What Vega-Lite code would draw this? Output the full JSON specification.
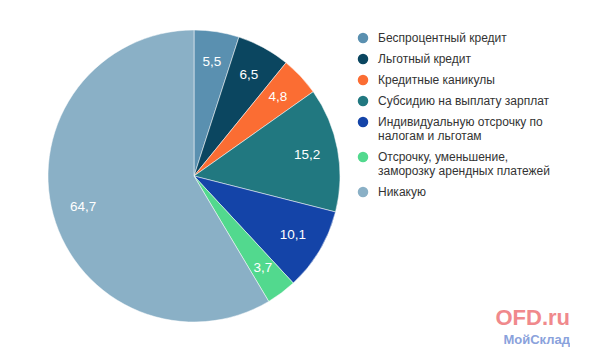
{
  "$schema": "https://vega.github.io/schema/vega-lite/v6.json",
  "width": 388,
  "height": 352,
  "padding": {"left": 0, "top": 0, "right": 0, "bottom": 0},
  "background": "white",
  "config": {
    "view": {"stroke": null},
    "font": "Liberation Sans",
    "locale": {"number": {"decimal": ",", "thousands": " ", "grouping": [3], "currency": ["", " ₽"]}}
  },
  "title": {
    "text": "OFD.ru",
    "subtitle": "МойСклад",
    "orient": "bottom",
    "anchor": "end",
    "frame": "bounds",
    "offset": -44,
    "dx": 20,
    "color": "#f0898c",
    "fontSize": 22,
    "fontWeight": "bold",
    "subtitleColor": "#8aa2dc",
    "subtitleFontSize": 13,
    "subtitleFontWeight": "bold",
    "subtitlePadding": 4
  },
  "data": {
    "values": [
      {"order": 1, "category": "Беспроцентный кредит", "value": 5.5},
      {"order": 2, "category": "Льготный кредит", "value": 6.5},
      {"order": 3, "category": "Кредитные каникулы", "value": 4.8},
      {"order": 4, "category": "Субсидию на выплату зарплат", "value": 15.2},
      {"order": 5, "category": "Индивидуальную отсрочку по|налогам и льготам", "value": 10.1},
      {"order": 6, "category": "Отсрочку, уменьшение,|заморозку арендных платежей", "value": 3.7},
      {"order": 7, "category": "Никакую", "value": 64.7}
    ]
  },
  "encoding": {
    "theta": {"field": "value", "type": "quantitative", "stack": true},
    "order": {"field": "order", "type": "quantitative"}
  },
  "layer": [
    {
      "mark": {"type": "arc", "outerRadius": 146, "stroke": "white", "strokeWidth": 0.5},
      "encoding": {
        "color": {
          "field": "category",
          "type": "nominal",
          "sort": null,
          "scale": {
            "domain": [
              "Беспроцентный кредит",
              "Льготный кредит",
              "Кредитные каникулы",
              "Субсидию на выплату зарплат",
              "Индивидуальную отсрочку по|налогам и льготам",
              "Отсрочку, уменьшение,|заморозку арендных платежей",
              "Никакую"
            ],
            "range": ["#5a90b0", "#0b4660", "#fb6d33", "#217880", "#1444a8", "#52d98e", "#8ab0c6"]
          },
          "legend": {
            "orient": "none",
            "legendX": 357,
            "legendY": 32,
            "title": null,
            "symbolType": "circle",
            "symbolSize": 110,
            "symbolStrokeWidth": 0,
            "labelFontSize": 12,
            "labelColor": "#333333",
            "labelOffset": 9,
            "labelLimit": 300,
            "rowPadding": 9,
            "labelExpr": "split(datum.label, '|')"
          }
        }
      }
    },
    {
      "mark": {"type": "text", "radius": 115, "fontSize": 13.5, "fill": "white"},
      "encoding": {
        "text": {"field": "value", "type": "quantitative", "format": ".1f"},
        "color": {"value": "white"}
      }
    }
  ]
}
